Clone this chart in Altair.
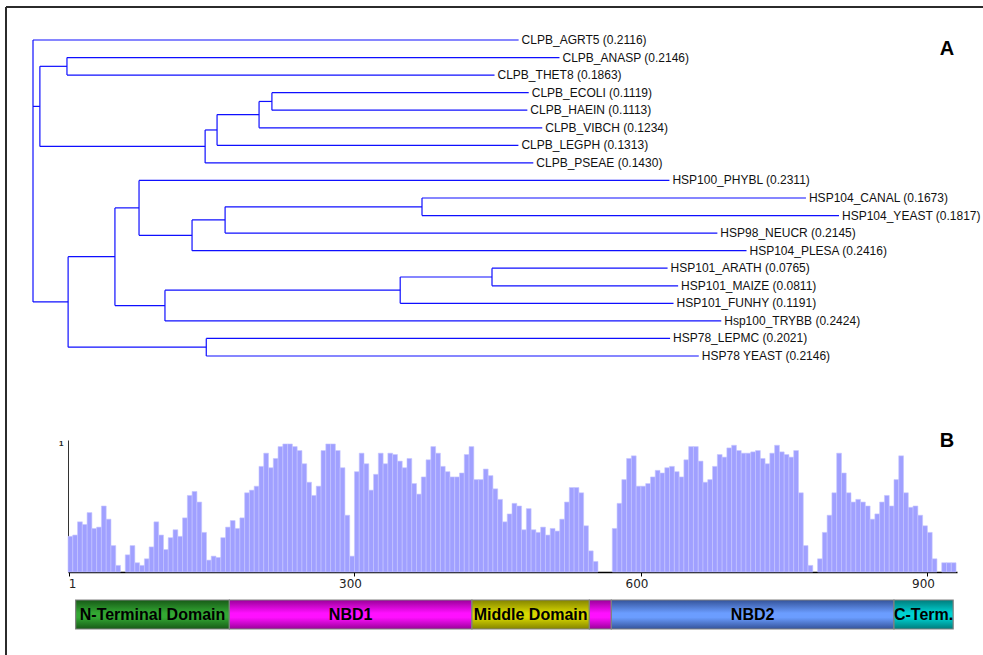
import altair as alt
import pandas as pd

# ---------------- Panel A : neighbour-joining tree ----------------
leaf_names = ["CLPB_AGRT5", "CLPB_ANASP", "CLPB_THET8", "CLPB_ECOLI", "CLPB_HAEIN",
              "CLPB_VIBCH", "CLPB_LEGPH", "CLPB_PSEAE", "HSP100_PHYBL", "HSP104_CANAL",
              "HSP104_YEAST", "HSP98_NEUCR", "HSP104_PLESA", "HSP101_ARATH", "HSP101_MAIZE",
              "HSP101_FUNHY", "Hsp100_TRYBB", "HSP78_LEPMC", "HSP78 YEAST"]
leaf_lengths = [0.2116, 0.2146, 0.1863, 0.1119, 0.1113,
                0.1234, 0.1313, 0.1430, 0.2311, 0.1673,
                0.1817, 0.2145, 0.2416, 0.0765, 0.0811,
                0.1191, 0.2424, 0.2021, 0.2146]
leaf_parents = ["root", "n_ana", "n_ana", "n_eco", "n_eco",
                "n_vib", "n_leg", "n_pse", "n_phy", "n_yea",
                "n_yea", "n_neu", "n_ple", "n_ara", "n_ara",
                "n_fun", "n_try", "n_78", "n_78"]

node_names = ["root", "n_clpb", "n_ana", "n_pse", "n_leg", "n_vib", "n_eco",
              "n_hsp", "n_mid", "n_phy", "n_ple", "n_neu", "n_yea",
              "n_try", "n_fun", "n_ara", "n_78"]
node_parents = ["", "root", "n_clpb", "n_clpb", "n_pse", "n_leg", "n_vib",
                "root", "n_hsp", "n_mid", "n_phy", "n_ple", "n_neu",
                "n_mid", "n_try", "n_fun", "n_hsp"]
node_depths = [0.0, 0.0030, 0.0148, 0.0750, 0.0802, 0.0985, 0.1041,
               0.0153, 0.0357, 0.0462, 0.0693, 0.0837, 0.1695,
               0.0575, 0.1600, 0.2000, 0.0755]

# ---------------- Panel B : conservation profile ----------------
bin_width = 5
cons_values = [
    0.27, 0.28, 0.38, 0.36, 0.45, 0.33, 0.34, 0.50, 0.40, 0.20,
    0.05, 0.00, 0.13, 0.20, 0.07, 0.05, 0.10, 0.19, 0.38, 0.28,
    0.17, 0.26, 0.32, 0.27, 0.41, 0.58, 0.61, 0.53, 0.30, 0.09,
    0.12, 0.11, 0.26, 0.34, 0.39, 0.33, 0.41, 0.60, 0.62, 0.65,
    0.80, 0.90, 0.79, 0.86, 0.95, 0.97, 0.97, 0.95, 0.92, 0.82,
    0.68, 0.58, 0.65, 0.92, 0.97, 0.97, 0.92, 0.79, 0.43, 0.12,
    0.76, 0.90, 0.82, 0.62, 0.74, 0.90, 0.82, 0.90, 0.89, 0.84,
    0.79, 0.86, 0.67, 0.59, 0.72, 0.85, 0.95, 0.90, 0.80, 0.76,
    0.72, 0.72, 0.75, 0.89, 0.95, 0.70, 0.70, 0.78, 0.73, 0.63,
    0.55, 0.38, 0.44, 0.52, 0.50, 0.32, 0.48, 0.32, 0.30, 0.34,
    0.28, 0.33, 0.31, 0.40, 0.53, 0.64, 0.64, 0.60, 0.35, 0.16,
    0.08, 0.00, 0.00, 0.00, 0.33, 0.52, 0.70, 0.86, 0.88, 0.65,
    0.65, 0.67, 0.72, 0.77, 0.75, 0.79, 0.80, 0.76, 0.72, 0.85,
    0.95, 0.95, 0.84, 0.68, 0.70, 0.80, 0.89, 0.87, 0.94, 0.96,
    0.92, 0.90, 0.90, 0.91, 0.92, 0.86, 0.82, 0.90, 0.96, 0.91,
    0.89, 0.87, 0.92, 0.60, 0.20, 0.05, 0.00, 0.10, 0.30, 0.43,
    0.60, 0.90, 0.75, 0.60, 0.53, 0.55, 0.53, 0.50, 0.40, 0.44,
    0.53, 0.58, 0.50, 0.70, 0.88, 0.60, 0.49, 0.50, 0.43, 0.35,
    0.30, 0.10, 0.00, 0.07, 0.07, 0.07,
]
x_ticks = [1, 300, 600, 900]
y_ticks = [1]

domain_labels = ["N-Terminal Domain", "NBD1", "Middle Domain", "", "NBD2", "C-Term."]
domain_start = [8, 169, 423, 546, 569, 865]
domain_end = [169, 423, 546, 569, 865, 927]

# styles (edge colour, middle colour) per domain
domain_colors = [("#175a17", "#33a833"), ("#9a009a", "#ff10ff"), ("#848400", "#d8d800"),
                 ("#9a009a", "#ff10ff"), ("#34539a", "#6b9dff"), ("#007c7c", "#00d2d2")]

# ---------------- build tables ----------------
depth = dict(zip(node_names, node_depths))
parent = dict(zip(node_names, node_parents))
children = {n: [] for n in node_names}
row, xpos = {}, {}
for i, (n, l, p) in enumerate(zip(leaf_names, leaf_lengths, leaf_parents)):
    row[n] = i
    xpos[n] = depth[p] + l
    parent[n] = p
    children[p].append(n)
for n in node_names:
    xpos[n] = depth[n]
    if parent[n]:
        children[parent[n]].append(n)


def node_row(n):
    if n in row:
        return row[n]
    rs = [node_row(c) for c in children[n]]
    row[n] = (min(rs) + max(rs)) / 2
    return row[n]


node_row("root")
segs = []
for n in leaf_names + node_names:
    p = parent[n]
    if p:
        segs.append(dict(x=xpos[p], x2=xpos[n], y=row[n], y2=row[n]))
for n in node_names:
    rs = [row[c] for c in children[n]]
    segs.append(dict(x=xpos[n], x2=xpos[n], y=min(rs), y2=max(rs)))
seg_df = pd.DataFrame(segs)

leaf_df = pd.DataFrame({
    "x": [xpos[n] for n in leaf_names],
    "row": [row[n] for n in leaf_names],
    "label": [f"{n} ({l:.4f})" for n, l in zip(leaf_names, leaf_lengths)],
})

bar_df = pd.DataFrame({
    "start": [i * bin_width for i in range(len(cons_values))],
    "value": cons_values,
})
bar_df["end"] = bar_df["start"] + bin_width
bar_df = bar_df[bar_df["value"] > 0]

dom_df = pd.DataFrame({"label": domain_labels, "start": domain_start, "end": domain_end})
dom_df["mid"] = (dom_df["start"] + dom_df["end"]) / 2
dom_df["lo"] = 0.0
dom_df["hi"] = 1.0
dom_df["ym"] = 0.5

one = pd.DataFrame({"k": [0]})

# ---------------- scales ----------------
tree_x = alt.Scale(domain=[0, 1], range=[33, 2328], nice=False, zero=False)
tree_y = alt.Scale(domain=[0, 18], range=[40, 356], nice=False, zero=False)
res_x = alt.Scale(domain=[0, 931], range=[68, 957], nice=False, zero=False)
bar_y = alt.Scale(domain=[0, 1], range=[572, 440], nice=False, zero=False)
dom_y = alt.Scale(domain=[0, 1], range=[629, 600], nice=False, zero=False)

# ---------------- panel A ----------------
edges = alt.Chart(seg_df).mark_rule(color="#0f0fff", strokeWidth=1.2).encode(
    x=alt.X("x:Q", scale=tree_x, axis=None),
    x2="x2:Q",
    y=alt.Y("y:Q", scale=tree_y, axis=None),
    y2="y2:Q",
)
labels = alt.Chart(leaf_df).mark_text(
    align="left", baseline="middle", dx=3, font="Liberation Sans", fontSize=12, color="#111111"
).encode(
    x=alt.X("x:Q", scale=tree_x, axis=None),
    y=alt.Y("row:Q", scale=tree_y, axis=None),
    text="label:N",
)
tree = alt.layer(edges, labels)

# ---------------- panel B ----------------
bars = alt.Chart(bar_df).mark_rect(fill="#a0a0ff", stroke="#c6c6ff", strokeWidth=0.6).encode(
    x=alt.X("start:Q", scale=res_x, title=None,
            axis=alt.Axis(values=x_ticks, orient="bottom", offset=-83, grid=False,
                          labelAlign="right", labelOffset=7, labelFlush=False,
                          labelFont="DejaVu Sans", labelFontSize=12, labelColor="#222",
                          labelPadding=2, tickSize=4, tickColor="black",
                          domainColor="black", domainWidth=1.5)),
    x2="end:Q",
    y=alt.Y("value:Q", scale=bar_y, title=None,
            axis=alt.Axis(values=y_ticks, orient="left", offset=-68, grid=False,
                          tickSize=0, labelPadding=5, labelOffset=3,
                          labelFont="Liberation Sans", labelFontSize=8, labelFontWeight="bold",
                          labelColor="#222", domainColor="#333", domainWidth=1)),
    y2=alt.datum(0),
)

dom_layers = []
for i in range(len(dom_df)):
    edge, mid = domain_colors[i]
    grad = alt.LinearGradient(
        gradient="linear", x1=0, x2=0, y1=0, y2=1,
        stops=[alt.GradientStop(color=edge, offset=0),
               alt.GradientStop(color=mid, offset=0.45),
               alt.GradientStop(color=mid, offset=0.6),
               alt.GradientStop(color=edge, offset=1)],
    )
    dom_layers.append(
        alt.Chart(dom_df.iloc[[i]]).mark_rect(fill=grad, stroke="#808080", strokeWidth=1.2).encode(
            x=alt.X("start:Q", scale=res_x, axis=None),
            x2="end:Q",
            y=alt.Y("lo:Q", scale=dom_y, axis=None),
            y2="hi:Q",
        )
    )
dom_text = alt.Chart(dom_df[dom_df["label"] != ""]).mark_text(
    font="Liberation Sans", fontSize=16, fontWeight="bold", color="black", baseline="middle"
).encode(
    x=alt.X("mid:Q", scale=res_x, axis=None),
    y=alt.Y("ym:Q", scale=dom_y, axis=None),
    text="label:N",
)
domains = alt.layer(*dom_layers, dom_text)

# ---------------- decorations ----------------
frame_left = alt.Chart(one).mark_rule(color="#2b2b2b", strokeWidth=2).encode(
    x=alt.value(6), y=alt.value(7), y2=alt.value(655))
frame_top = alt.Chart(one).mark_rule(color="#2b2b2b", strokeWidth=2).encode(
    x=alt.value(6), x2=alt.value(983), y=alt.value(7))
letter_a = alt.Chart(one).mark_text(
    text="A", font="Liberation Sans", fontSize=20, fontWeight="bold", align="center",
    baseline="middle", color="black").encode(x=alt.value(947), y=alt.value(49))
letter_b = alt.Chart(one).mark_text(
    text="B", font="Liberation Sans", fontSize=20, fontWeight="bold", align="center",
    baseline="middle", color="black").encode(x=alt.value(947), y=alt.value(441))

chart = alt.layer(frame_left, frame_top, tree, bars, domains, letter_a, letter_b).resolve_scale(
    x="independent", y="independent"
).properties(
    width=983, height=655, padding=0,
    autosize=alt.AutoSizeParams(type="none"),
    background="white",
).configure_view(strokeWidth=0)

chart.save("out.html", embed_options={"renderer": "svg", "actions": False})
